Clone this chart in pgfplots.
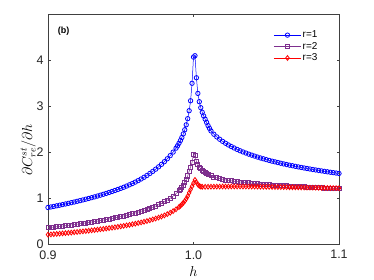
\documentclass[border=0pt]{standalone}
\usepackage{fontspec}
\setmainfont{Liberation Sans}
\usepackage{pgfplots}
\usepackage{pgfplotstable}
\pgfplotsset{compat=1.18}
\definecolor{mblue}{RGB}{0,0,255}
\definecolor{mpurple}{RGB}{126,47,142}
\definecolor{mred}{RGB}{255,0,0}
\pgfplotstableread{
h v
0.900 0.800
0.902 0.812
0.904 0.824
0.906 0.837
0.908 0.850
0.910 0.863
0.912 0.877
0.914 0.890
0.916 0.905
0.918 0.919
0.920 0.934
0.922 0.949
0.924 0.965
0.926 0.981
0.928 0.997
0.930 1.014
0.932 1.031
0.934 1.049
0.936 1.068
0.938 1.087
0.940 1.106
0.942 1.127
0.944 1.148
0.946 1.170
0.948 1.192
0.950 1.216
0.952 1.240
0.954 1.266
0.956 1.293
0.958 1.321
0.960 1.352
0.962 1.385
0.964 1.420
0.966 1.457
0.968 1.497
0.970 1.540
0.972 1.585
0.974 1.633
0.976 1.684
0.978 1.738
0.980 1.796
0.982 1.859
0.984 1.928
0.986 2.004
0.988 2.090
0.989 2.140
0.990 2.195
0.991 2.255
0.992 2.322
0.993 2.400
0.994 2.490
0.995 2.598
0.996 2.731
0.997 2.904
0.998 3.120
0.999 3.500
1.000 4.070
1.001 4.100
1.002 3.620
1.003 3.280
1.004 3.100
1.005 2.970
1.006 2.870
1.007 2.790
1.008 2.720
1.009 2.650
1.010 2.580
1.011 2.520
1.012 2.465
1.014 2.393
1.016 2.335
1.018 2.284
1.020 2.238
1.022 2.197
1.024 2.159
1.026 2.125
1.028 2.093
1.030 2.063
1.032 2.034
1.034 2.008
1.036 1.984
1.038 1.960
1.040 1.938
1.042 1.917
1.044 1.896
1.046 1.877
1.048 1.859
1.050 1.841
1.052 1.824
1.054 1.807
1.056 1.792
1.058 1.777
1.060 1.762
1.062 1.747
1.064 1.734
1.066 1.720
1.068 1.708
1.070 1.695
1.072 1.683
1.074 1.671
1.076 1.659
1.078 1.648
1.080 1.637
1.082 1.626
1.084 1.616
1.086 1.606
1.088 1.596
1.090 1.586
1.092 1.576
1.094 1.567
1.096 1.558
1.098 1.549
1.100 1.540
}\rone
\pgfplotstableread{
h v
0.900 0.360
0.902 0.367
0.904 0.374
0.906 0.382
0.908 0.389
0.910 0.397
0.912 0.405
0.914 0.413
0.916 0.421
0.918 0.429
0.920 0.438
0.922 0.447
0.924 0.456
0.926 0.465
0.928 0.475
0.930 0.485
0.932 0.495
0.934 0.505
0.936 0.516
0.938 0.527
0.940 0.539
0.942 0.551
0.944 0.563
0.946 0.576
0.948 0.589
0.950 0.603
0.952 0.617
0.954 0.632
0.956 0.647
0.958 0.664
0.960 0.681
0.962 0.699
0.964 0.718
0.966 0.738
0.968 0.759
0.970 0.781
0.972 0.806
0.974 0.831
0.976 0.859
0.978 0.890
0.980 0.923
0.982 0.960
0.984 1.001
0.986 1.048
0.988 1.102
0.990 1.166
0.991 1.203
0.992 1.244
0.993 1.291
0.994 1.345
0.995 1.409
0.996 1.487
0.997 1.587
0.998 1.680
0.999 1.780
1.000 1.960
1.001 1.940
1.002 1.800
1.003 1.740
1.004 1.680
1.005 1.640
1.006 1.610
1.007 1.580
1.008 1.560
1.009 1.540
1.010 1.520
1.012 1.490
1.014 1.465
1.016 1.445
1.018 1.430
1.020 1.415
1.022 1.400
1.024 1.390
1.026 1.380
1.028 1.370
1.030 1.362
1.032 1.355
1.034 1.348
1.036 1.341
1.038 1.335
1.040 1.329
1.042 1.323
1.044 1.317
1.046 1.311
1.048 1.306
1.050 1.301
1.052 1.296
1.054 1.291
1.056 1.287
1.058 1.283
1.060 1.279
1.062 1.275
1.064 1.271
1.066 1.267
1.068 1.263
1.070 1.259
1.072 1.255
1.074 1.252
1.076 1.248
1.078 1.245
1.080 1.241
1.082 1.238
1.084 1.235
1.086 1.231
1.088 1.228
1.090 1.225
1.092 1.222
1.094 1.219
1.096 1.216
1.098 1.213
1.100 1.210
}\rtwo
\pgfplotstableread{
h v
0.900 0.210
0.902 0.215
0.904 0.221
0.906 0.226
0.908 0.232
0.910 0.237
0.912 0.243
0.914 0.249
0.916 0.255
0.918 0.262
0.920 0.268
0.922 0.275
0.924 0.281
0.926 0.288
0.928 0.295
0.930 0.303
0.932 0.310
0.934 0.318
0.936 0.326
0.938 0.334
0.940 0.343
0.942 0.352
0.944 0.361
0.946 0.370
0.948 0.380
0.950 0.390
0.952 0.401
0.954 0.412
0.956 0.423
0.958 0.436
0.960 0.448
0.962 0.462
0.964 0.476
0.966 0.490
0.968 0.506
0.970 0.523
0.972 0.541
0.974 0.560
0.976 0.581
0.978 0.604
0.980 0.628
0.982 0.656
0.984 0.686
0.986 0.721
0.988 0.761
0.990 0.809
0.991 0.836
0.992 0.867
0.993 0.901
0.994 0.941
0.995 0.989
0.996 1.047
0.997 1.120
0.998 1.190
0.999 1.260
1.000 1.330
1.001 1.400
1.002 1.350
1.003 1.300
1.004 1.270
1.005 1.255
1.006 1.250
1.008 1.250
1.010 1.251
1.012 1.252
1.014 1.253
1.016 1.254
1.018 1.255
1.020 1.256
1.022 1.256
1.024 1.257
1.026 1.257
1.028 1.257
1.030 1.257
1.032 1.257
1.034 1.256
1.036 1.256
1.038 1.255
1.040 1.255
1.042 1.254
1.044 1.253
1.046 1.252
1.048 1.251
1.050 1.250
1.052 1.249
1.054 1.247
1.056 1.246
1.058 1.245
1.060 1.244
1.062 1.243
1.064 1.242
1.066 1.240
1.068 1.239
1.070 1.238
1.072 1.237
1.074 1.236
1.076 1.234
1.078 1.233
1.080 1.232
1.082 1.231
1.084 1.230
1.086 1.228
1.088 1.227
1.090 1.226
1.092 1.225
1.094 1.224
1.096 1.222
1.098 1.221
1.100 1.220
}\rthree
\begin{document}
\begin{tikzpicture}
\useasboundingbox (-48bp,-35.7bp) rectangle (326bp,244.3bp);
\begin{axis}[
  at={(0,0)}, anchor=south west,
  scale only axis, width=291bp, height=230bp,
  xmin=0.9, xmax=1.1, ymin=0, ymax=5,
  xtick={0.9,1.0,1.1}, xticklabels={0.9,1.0,1.1},
  ytick={0,1,2,3,4},
  tick align=inside, major tick length=2.5bp,
  axis line style={black!75, line width=0.5pt},
  tick style={black!75, line width=0.5pt},
  every tick label/.append style={font=\fontsize{12.5}{14}\selectfont, text=black!85},
  xticklabel style={yshift=-2.5bp},
  yticklabel style={xshift=-1bp},
  /pgf/number format/assume math mode=true,
  xlabel={$h$}, ylabel={$\partial C^{st}_{re}/\partial h$},
  label style={font=\fontsize{14}{16}\selectfont},
  xlabel style={at={(axis description cs:0.5,-0.08)}, anchor=north},
  ylabel style={at={(axis description cs:-0.068,0.41)}, anchor=center},
  legend style={draw=none, fill=none, at={(axis description cs:0.775,0.935)}, anchor=north west, font=\fontsize{10}{12}\selectfont, row sep=0pt, inner sep=0pt, nodes={inner sep=1.5bp}},
  legend cell align=left,
  legend image code/.code={\draw[mark repeat=2, mark phase=2] plot coordinates {(0bp,0bp) (13.5bp,0bp) (27bp,0bp)};},
]
\addplot[mblue, line width=0.5pt, mark=o, mark size=2.2bp, mark options={line width=0.8pt, solid}] table[x=h,y=v] {\rone};
\addlegendentry{r=1}
\addplot[mpurple, line width=0.5pt, mark=square, mark size=2bp, mark options={line width=0.8pt, solid}] table[x=h,y=v] {\rtwo};
\addlegendentry{r=2}
\addplot[mred, line width=0.5pt, mark=diamond, mark size=2.4bp, mark options={line width=0.8pt, solid}] table[x=h,y=v] {\rthree};
\addlegendentry{r=3}
\node[anchor=west, font=\bfseries\fontsize{9}{10}\selectfont] at (axis description cs:0.022,0.927) {(b)};
\end{axis}
\end{tikzpicture}
\end{document}
